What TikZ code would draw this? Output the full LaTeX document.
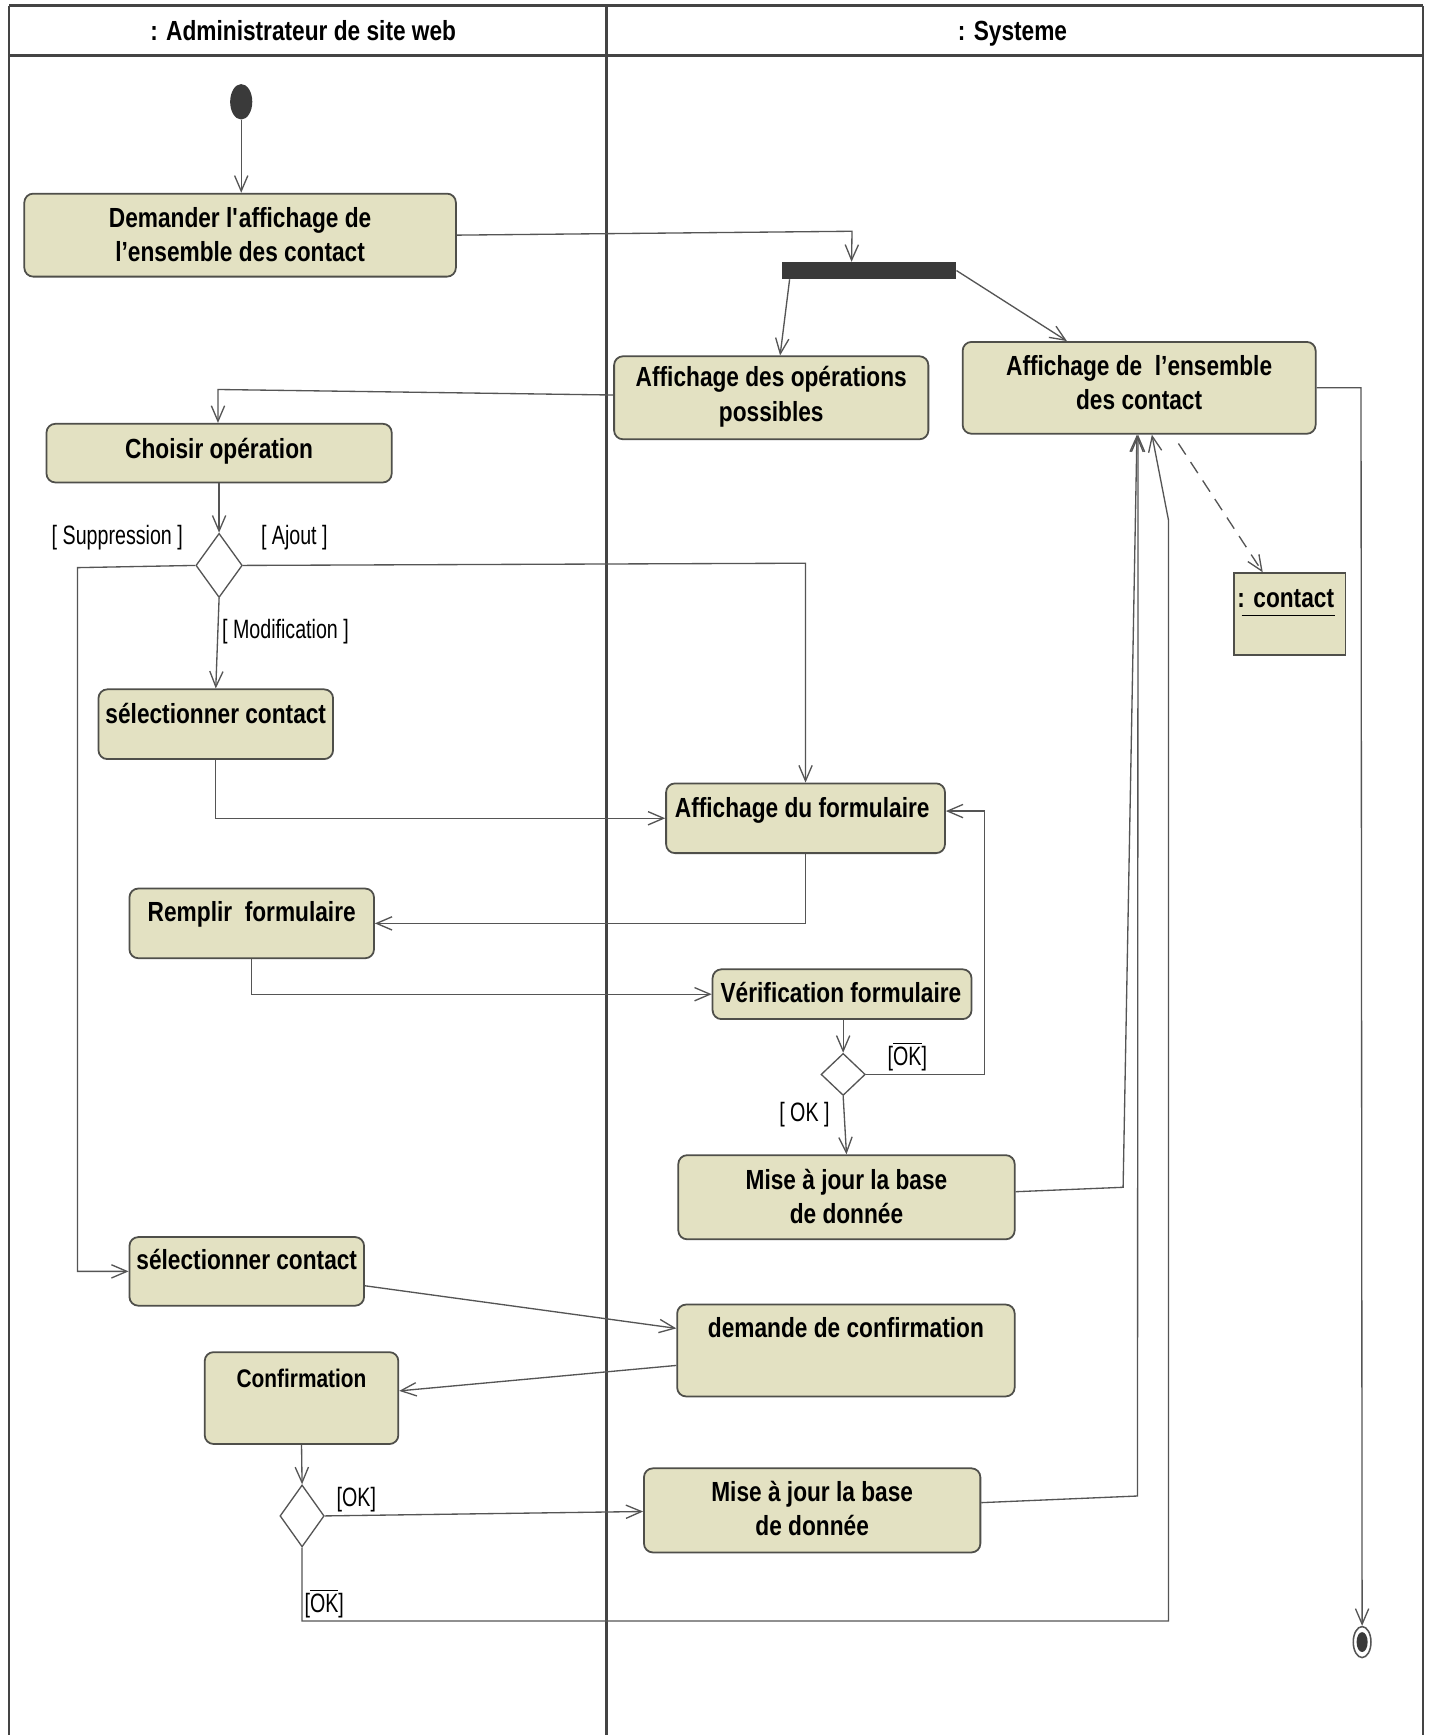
\documentclass[tikz,border=0pt]{standalone}
\usepackage{fontspec}
\setmainfont{Liberation Sans}
\newfontfamily\boxfont[FakeStretch=0.82]{Liberation Sans Bold}
\newfontfamily\guardfont[FakeStretch=0.74]{Liberation Sans}
\usetikzlibrary{arrows.meta,shapes.geometric,calc}
\definecolor{boxfill}{HTML}{E3E1C2}
\definecolor{boxline}{HTML}{4F4F4A}
\definecolor{flowc}{HTML}{555555}
\definecolor{darkfill}{HTML}{3A3A3A}
\definecolor{framec}{HTML}{444444}
\begin{document}
\begin{tikzpicture}[x=0.5pt,y=-0.5pt,
  act/.style={draw=boxline,fill=boxfill,rounded corners=4pt,line width=0.8pt,inner sep=0pt},
  objbox/.style={draw=boxline,fill=boxfill,line width=0.8pt,inner sep=0pt},
  acttxt/.style={font=\boxfont\fontsize{12.5}{15.5}\selectfont,align=center,inner sep=0pt,text=black},
  one/.style={text height=9pt,text depth=0pt},
  guard/.style={font=\guardfont\fontsize{12}{14}\selectfont,inner sep=0pt,text=black},
  flow/.style={draw=flowc,line width=0.6pt,-{Straight Barb[length=7pt,width=6pt]}},
  dec/.style={diamond,draw=flowc,fill=white,line width=0.6pt,inner sep=0pt,aspect=1},
  lane/.style={draw=framec,line width=0.8pt},
  headline/.style={draw=framec,line width=1.4pt}]
\useasboundingbox (0,0) rectangle (1292,1568);
\fill[white] (0,0) rectangle (1292,1568);
% swimlane frame
\draw[headline] (8,5) -- (1286,5);
\draw[headline] (8,50) -- (1286,50);
\draw[lane] (8,5) -- (8,1568);
\draw[lane,line width=1.1pt] (548,5) -- (548,1568);
\draw[lane] (1286,5) -- (1286,1568);
\node[acttxt,one] (h1) at (274,28) {: Administrateur de site web};
\node[acttxt,one] (h2) at (915,28) {: Systeme};

% initial and final
\node[ellipse,fill=darkfill,minimum width=10pt,minimum height=16pt,inner sep=0pt] (init) at (218,92) {};
\node[ellipse,draw=flowc,fill=white,line width=0.7pt,minimum width=8pt,minimum height=14pt,inner sep=0pt] (fin) at (1231,1484) {};
\node[ellipse,fill=darkfill,minimum width=5pt,minimum height=9pt,inner sep=0pt] (findot) at (fin) {};

% activities
\node[act,minimum width=195pt,minimum height=37.5pt] (b1) at (217,212.5) {};
\node[acttxt] (b1t) at (217,212) {Demander l\textquotesingle affichage de\\l’ensemble des contact};
\node[fill=darkfill,minimum width=78.5pt,minimum height=7.5pt,inner sep=0pt] (fork) at (785.5,244.5) {};
\node[act,minimum width=142pt,minimum height=37.5pt] (b2) at (697,359.5) {};
\node[acttxt] (b2t) at (697,358.5) {Affichage des opérations\\possibles};
\node[act,minimum width=159.5pt,minimum height=41.5pt] (b3) at (1029.5,350.5) {};
\node[acttxt] (b3t) at (1029.5,345.5) {Affichage de\ \ l’ensemble\\des contact};
\node[act,minimum width=156pt,minimum height=26.5pt] (b4) at (198,409.5) {};
\node[acttxt,one] (b4t) at (198,405) {Choisir opération};
\node[dec,minimum width=21pt,minimum height=29pt] (d1) at (198,511) {};
\node[act,minimum width=106pt,minimum height=31.5pt] (s1) at (195,654.5) {};
\node[acttxt,one] (s1t) at (195,645) {sélectionner contact};
\node[act,minimum width=126pt,minimum height=31.5pt] (f) at (728,739.5) {};
\node[acttxt,one] (ft) at (725,730) {Affichage du formulaire};
\node[act,minimum width=110.5pt,minimum height=31.5pt] (r) at (227.5,834.5) {};
\node[acttxt,one] (rt) at (227.5,824) {Remplir\ \ formulaire};
\node[act,minimum width=117pt,minimum height=22.5pt] (v) at (761,898.5) {};
\node[acttxt,one] (vt) at (760,897) {Vérification formulaire};
\node[dec,minimum width=20pt,minimum height=19pt] (d2) at (762,971) {};
\node[act,minimum width=152pt,minimum height=38pt] (m1) at (765,1082) {};
\node[acttxt] (m1t) at (765,1081.5) {Mise à jour la base\\de donnée};
\node[act,minimum width=106pt,minimum height=31pt] (s2) at (223,1149) {};
\node[acttxt,one] (s2t) at (223,1138) {sélectionner contact};
\node[act,minimum width=152.5pt,minimum height=41.5pt] (dc) at (764.5,1220.5) {};
\node[acttxt,one] (dct) at (764.5,1200) {demande de confirmation};
\node[act,minimum width=87.5pt,minimum height=41.5pt] (c) at (272.5,1263.5) {};
\node[acttxt,one,font=\boxfont\fontsize{11.5}{13}\selectfont] (ct) at (272.5,1245) {Confirmation};
\node[dec,minimum width=20pt,minimum height=28pt] (d3) at (273,1370) {};
\node[act,minimum width=152pt,minimum height=38pt] (m2) at (734,1365) {};
\node[acttxt] (m2t) at (734,1363.5) {Mise à jour la base\\de donnée};
\node[objbox,minimum width=50.5pt,minimum height=37pt] (obj) at (1165.5,555) {};
\node[acttxt,one] (objt) at (1162,540) {: contact};
\draw[draw=black,line width=0.8pt] ($(obj.north west)+(8,39)$) -- ($(obj.north west)+(92,39)$);

% guards
\node[guard] (g1) at (106,486) {[ Suppression ]};
\node[guard] (g2) at (266,486) {[ Ajout ]};
\node[guard] (g3) at (258,571) {[ Modification ]};
\node[guard] (g4) at (820,955) {[$\overline{\hbox{OK}}$]};
\node[guard] (g5) at (727,1007) {[ OK ]};
\node[guard] (g6) at (322,1355) {[OK]};
\node[guard] (g7) at (293,1449) {[$\overline{\hbox{OK}}$]};

% flows
\draw[flow] (init.south) -- (init.south |- b1.north);
\draw[flow] (b1.east) -- (770,209) -- ($(fork.north west)+(63,0)$);
\draw[flow] ($(fork.south west)+(7,0)$) -- ($(b2.north)+(8,0)$);
\draw[flow] (fork.east) -- ($(b3.north west)+(95,0)$);
\draw[flow] ($(b2.west)+(0,-2.5)$) -- (197,352) -- ($(b4.north)+(-1,0)$);
\draw[flow] (b4.south) -- (d1.north);
\draw[flow] (d1.west) -- (70,513) -- (70,1149) -- (s2.west);
\draw[flow] (d1.east) -- (728,509) -- (f.north);
\draw[flow] (d1.south) -- (s1.north);
\draw[flow] (s1.south) -- (s1.south |- f.west) -- (f.west);
\draw[flow] (f.south) -- (f.south |- r.east) -- (r.east);
\draw[flow] (r.south) -- (r.south |- v.west) -- (v.west);
\draw[flow] ($(v.south)+(1,0)$) -- (d2.north);
\draw[flow] (d2.east) -- (890,971) -- (890,733) -- ($(f.east)+(0,-6.5)$);
\draw[flow] (d2.south) -- (m1.north);
\draw[flow] ($(m1.east)+(0,-5)$) -- (1015,1073) -- ($(b3.south)+(-2,0)$);
\draw[flow] ($(m2.east)+(0,-7)$) -- (1028,1352) -- ($(b3.south)+(-1,0)$);
\draw[flow] ($(s2.east)+(0,13)$) -- ($(dc.west)+(0,-20)$);
\draw[flow] ($(dc.west)+(0,13.5)$) -- ($(c.east)+(0,-6.5)$);
\draw[flow] (c.south) -- (d3.north);
\draw[flow] (d3.east) -- ($(m2.west)+(0,1)$);
\draw[flow] (d3.south) -- (273,1465) -- (1056,1465) -- (1056,470) -- ($(b3.south)+(11.5,0)$);
\draw[flow,dash pattern=on 6pt off 4pt] ($(b3.south)+(35.5,8)$) -- ($(obj.north west)+(27,0)$);
\draw[flow] (b3.east) -- (1230,350.5) -- (fin.north);
\end{tikzpicture}
\end{document}
